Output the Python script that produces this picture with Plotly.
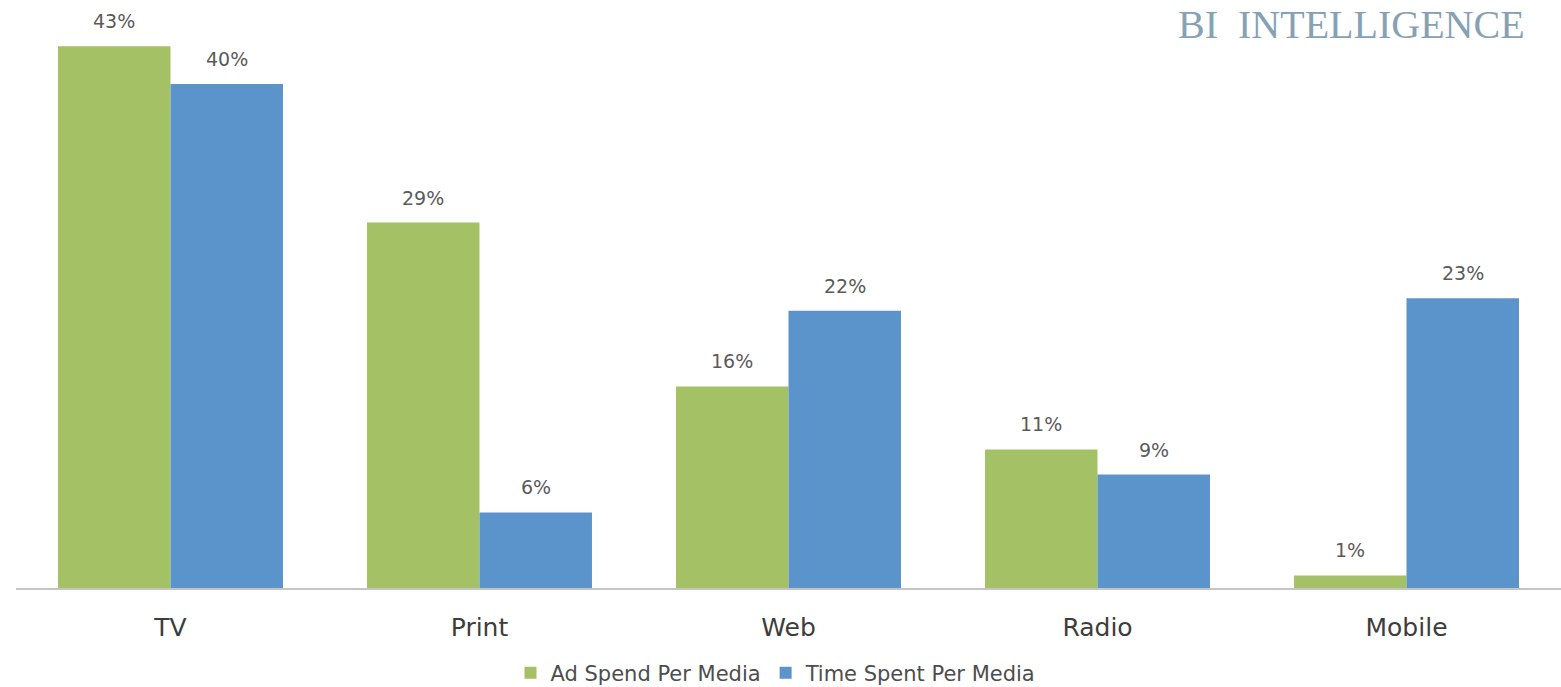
import plotly.graph_objects as go

categories = ["TV", "Print", "Web", "Radio", "Mobile"]
ad_spend = [43, 29, 16, 11, 1]
time_spent = [40, 6, 22, 9, 23]
series_names = ["Ad Spend Per Media", "Time Spent Per Media"]

GREEN = "#a4c165"
BLUE = "#5b93cb"
FONT = "'DejaVu Sans', Verdana, sans-serif"

W, H = 1561, 687
ML, MB = 16, 99

fig = go.Figure()
fig.add_trace(go.Bar(x=categories, y=ad_spend, name=series_names[0],
                     marker=dict(color=GREEN, line=dict(width=0))))
fig.add_trace(go.Bar(x=categories, y=time_spent, name=series_names[1],
                     marker=dict(color=BLUE, line=dict(width=0))))

# value labels above each bar
bargap = 0.272
half = (1 - bargap) / 4
for i, (a, t) in enumerate(zip(ad_spend, time_spent)):
    for off, v in ((-half, a), (half, t)):
        fig.add_annotation(x=i + off, y=v, xref="x", yref="y", text=f"{v}%",
                           showarrow=False, yanchor="middle", yshift=25,
                           font=dict(family=FONT, size=19, color="#5a5a5a"))

# brand mark in the top-right corner
fig.add_annotation(x=(1527 - ML) / (W - ML), y=1, xref="paper", yref="paper",
                   text="BI  INTELLIGENCE", showarrow=False,
                   xanchor="right", yanchor="top", yshift=0,
                   font=dict(family="'Liberation Serif', serif", size=40, color="#86a1b4"))

fig.update_layout(
    width=W, height=H,
    margin=dict(l=ML, r=0, t=0, b=MB),
    paper_bgcolor="white", plot_bgcolor="white",
    barmode="group", bargap=bargap, bargroupgap=0,
    showlegend=True,
    legend=dict(orientation="h", x=(776 - ML) / (W - ML), xanchor="center",
                yref="container", y=14 / H, yanchor="middle",
                font=dict(family=FONT, size=21, color="#4d4d4d"),
                itemwidth=30, tracegroupgap=0),
    xaxis=dict(range=[-0.5, 4.5], showline=True, linecolor="#c4c4c4", linewidth=2,
               ticks="", ticklabelstandoff=16,
               tickfont=dict(family=FONT, size=25, color="#3d3d3d"),
               showgrid=False),
    yaxis=dict(range=[0, 588 / 12.6], visible=False, showgrid=False, zeroline=False),
)

fig.write_html("out.html")
